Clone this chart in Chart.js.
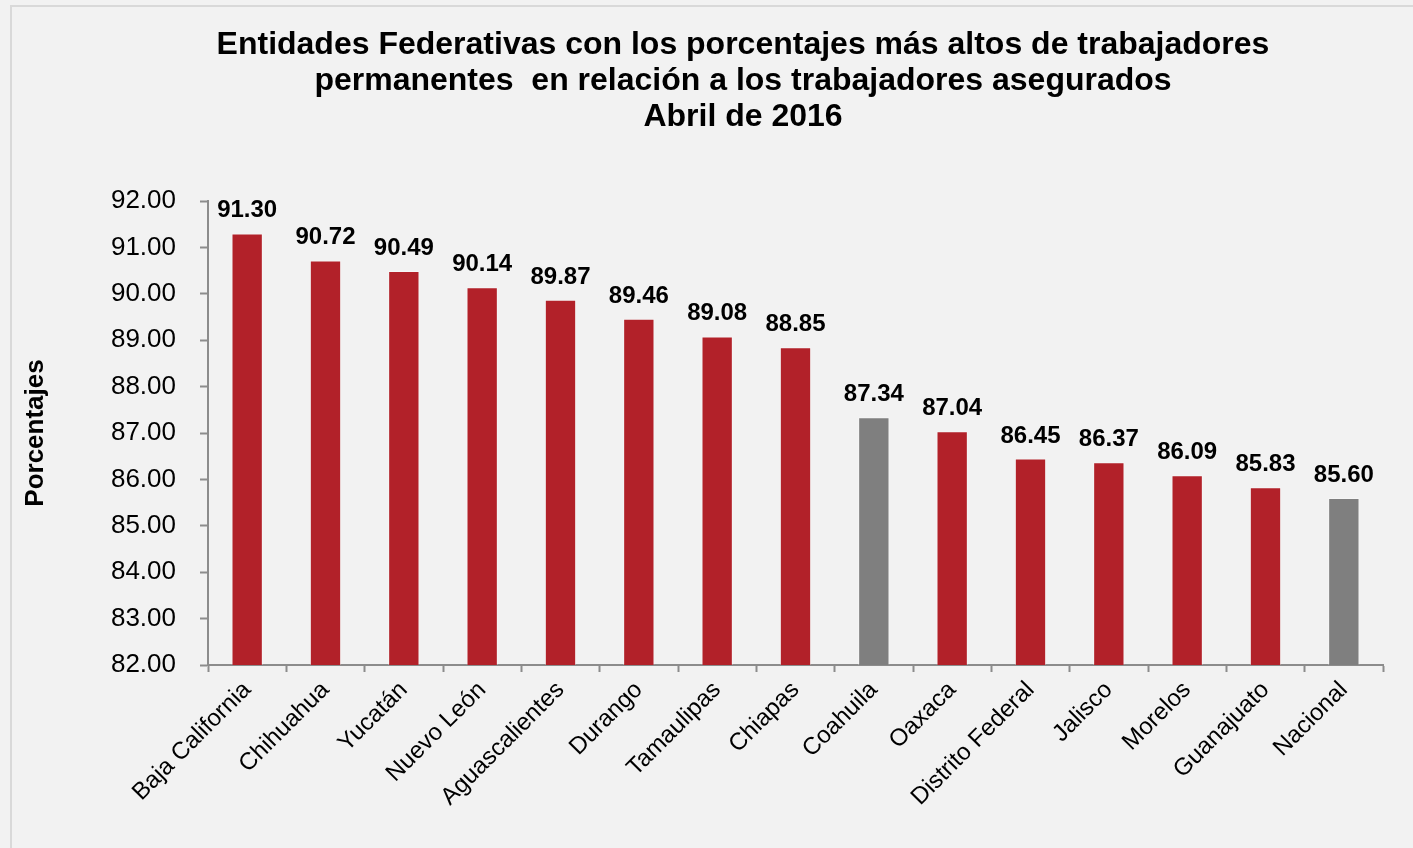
<!DOCTYPE html>
<html>
<head>
<meta charset="utf-8">
<script src="https://cdn.jsdelivr.net/npm/chart.js@4"></script>
<style>
  html, body { margin: 0; padding: 0; background: #f2f2f2; overflow: hidden; }
  #wrap { width: 1413px; height: 848px; }
</style>
</head>
<body>
<div id="wrap"><canvas id="chart"></canvas></div>
<script>
const estados = ['Baja California', 'Chihuahua', 'Yucatán', 'Nuevo León', 'Aguascalientes', 'Durango',
    'Tamaulipas', 'Chiapas', 'Coahuila', 'Oaxaca', 'Distrito Federal', 'Jalisco', 'Morelos', 'Guanajuato', 'Nacional'];
const porcentajes = [91.30, 90.72, 90.49, 90.14, 89.87, 89.46, 89.08, 88.85, 87.34, 87.04, 86.45, 86.37, 86.09, 85.83, 85.60];
const grises = ['Coahuila', 'Nacional'];
const titulo = [
    'Entidades Federativas con los porcentajes más altos de trabajadores',
    'permanentes  en relación a los trabajadores asegurados',
    'Abril de 2016'
];

const FONT = '"Liberation Sans", Arial, sans-serif';
const RED = '#b22129';
const GRAY = '#7f7f7f';
const AXIS = '#8c8c8c';

const colores = estados.map(e => grises.includes(e) ? GRAY : RED);

// fondo, marco y titulo
const frame = {
    id: 'frame',
    beforeDraw(chart) {
        const ctx = chart.ctx;
        ctx.save();
        ctx.fillStyle = '#f2f2f2';
        ctx.fillRect(0, 0, chart.width, chart.height);
        ctx.strokeStyle = '#d9d9d9';
        ctx.lineWidth = 2;
        ctx.strokeRect(11, 6, chart.width + 20, chart.height + 20);
        ctx.restore();
    },
    afterDraw(chart) {
        const ctx = chart.ctx;
        ctx.save();
        ctx.fillStyle = '#000';
        ctx.font = 'bold 32px ' + FONT;
        ctx.textAlign = 'center';
        ctx.textBaseline = 'middle';
        titulo.forEach((t, i) => ctx.fillText(t, 743, 45 + i * 36));
        ctx.restore();
    }
};

// etiquetas de valor sobre las barras
const valueLabels = {
    id: 'valueLabels',
    afterDatasetsDraw(chart) {
        const ctx = chart.ctx;
        const meta = chart.getDatasetMeta(0);
        ctx.save();
        ctx.fillStyle = '#000';
        ctx.font = 'bold 24px ' + FONT;
        ctx.textAlign = 'center';
        ctx.textBaseline = 'alphabetic';
        meta.data.forEach((bar, i) => {
            ctx.fillText(porcentajes[i].toFixed(2), bar.x, bar.y - 16);
        });
        ctx.restore();
    }
};

new Chart(document.getElementById('chart'), {
    type: 'bar',
    data: {
        labels: estados,
        datasets: [{
            data: porcentajes,
            backgroundColor: colores,
            borderColor: 'rgba(255,255,255,0.35)',
            borderWidth: 1,
            barPercentage: 0.4,
            categoryPercentage: 1.0
        }]
    },
    options: {
        responsive: true,
        maintainAspectRatio: false,
        animation: false,
        layout: { padding: { top: 201, left: 20, right: 30, bottom: 0 } },
        plugins: {
            legend: { display: false },
            tooltip: { enabled: false }
        },
        scales: {
            y: {
                min: 82,
                max: 92,
                ticks: {
                    stepSize: 1,
                    padding: 24,
                    color: '#000',
                    font: { family: FONT, size: 26 },
                    callback: v => v.toFixed(2)
                },
                grid: { drawOnChartArea: false, tickLength: 8, tickColor: AXIS, tickWidth: 2 },
                border: { color: AXIS, width: 2 },
                title: {
                    display: true,
                    text: 'Porcentajes',
                    color: '#000',
                    font: { family: FONT, size: 26, weight: 'bold' },
                    padding: 0
                },
                afterFit(scale) { scale.width = 188; }
            },
            x: {
                ticks: {
                    maxRotation: 45,
                    minRotation: 45,
                    padding: 4,
                    color: '#000',
                    font: { family: FONT, size: 24 },
                    autoSkip: false
                },
                grid: { offset: true, drawOnChartArea: false, tickLength: 7, tickColor: AXIS, tickWidth: 2 },
                border: { color: AXIS, width: 2 },
                afterFit(scale) { scale.height = 183; }
            }
        }
    },
    plugins: [frame, valueLabels]
});
</script>
</body>
</html>
